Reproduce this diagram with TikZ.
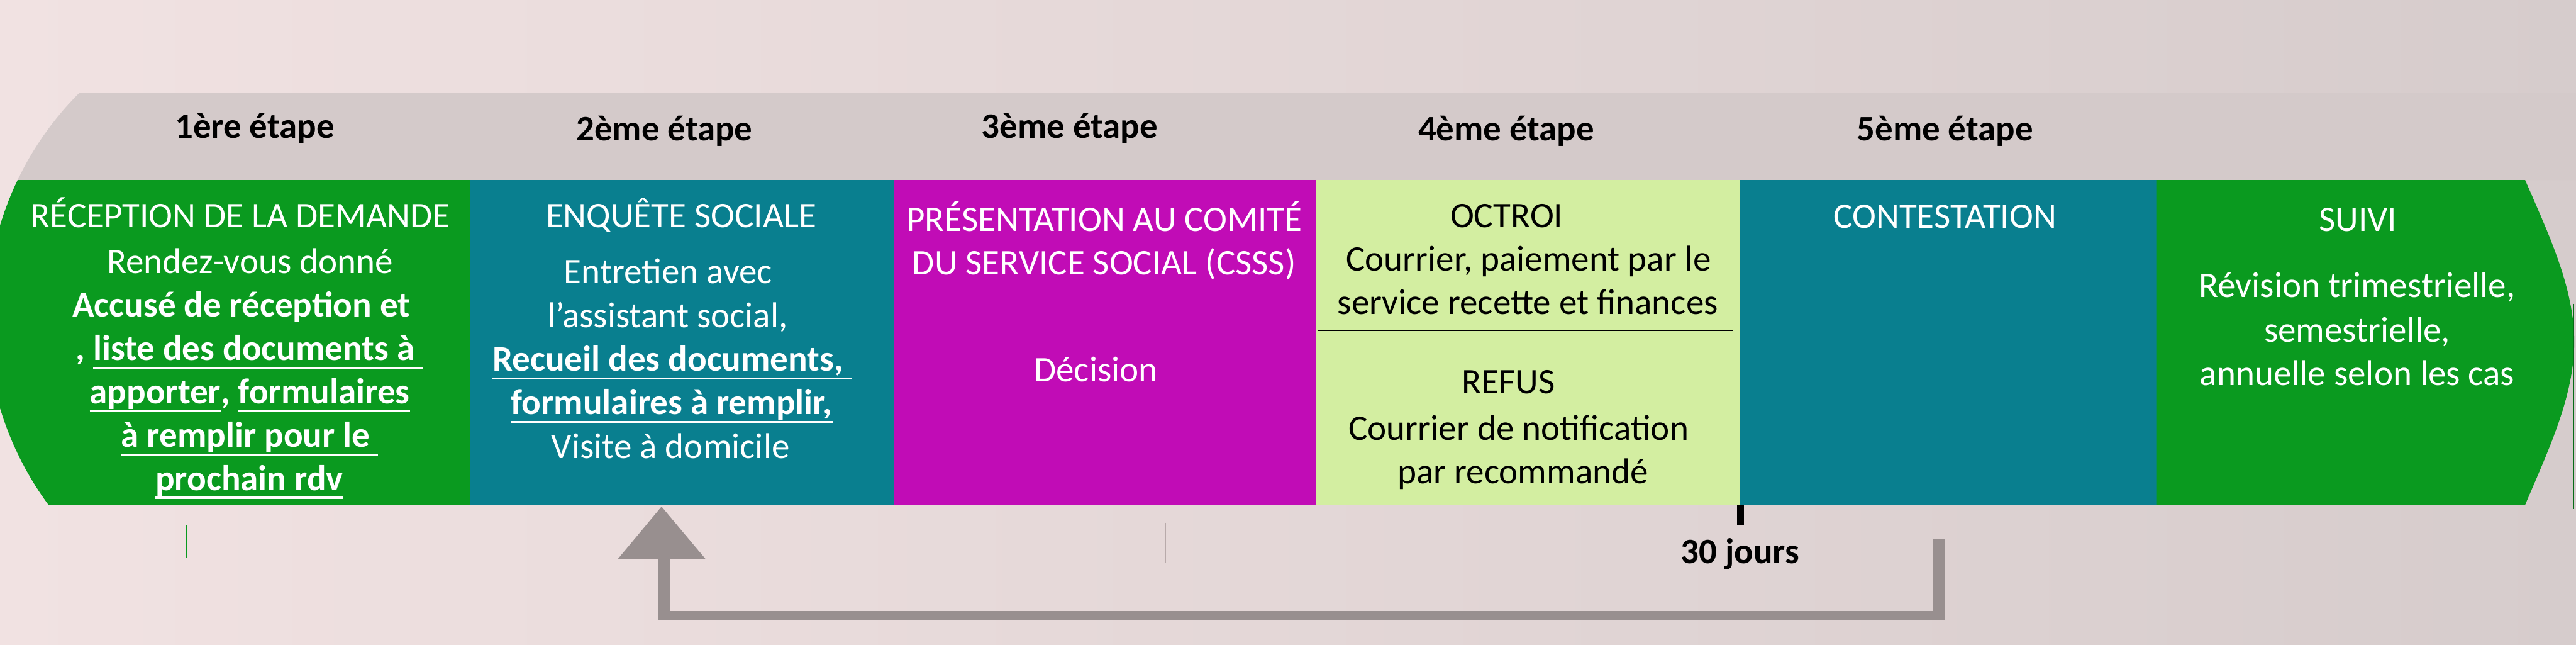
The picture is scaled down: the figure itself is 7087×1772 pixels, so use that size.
\documentclass[tikz,border=0pt]{standalone}
\usepackage{fontspec}
\setmainfont{Carlito}
\definecolor{bgL}{HTML}{F1E2E2}
\definecolor{bgR}{HTML}{D6CCCC}
\definecolor{bandgray}{HTML}{D4CACA}
\definecolor{cgreen}{HTML}{0A9A1F}
\definecolor{cteal}{HTML}{097F8F}
\definecolor{cmag}{HTML}{C10CB6}
\definecolor{clight}{HTML}{D3EEA1}
\definecolor{arrowgray}{HTML}{988F8F}
\definecolor{thingray}{HTML}{B8AAAA}
\newcommand\myul[1]{\setbox0\hbox{#1}\rlap{\rule[-6.8pt]{\wd0}{1.7pt}}\box0}
\begin{document}
\begin{tikzpicture}[x=0.01cm,y=-0.01cm,
  lbl/.style={inner sep=0pt, anchor=base, font=\fontsize{28.1}{34}\selectfont},
  wt/.style={lbl, text=white},
  wtb/.style={lbl, text=white, font=\fontsize{28.1}{34}\selectfont\bfseries},
  bk/.style={lbl, text=black},
  stagelbl/.style={lbl, text=black, font=\fontsize{28}{34}\selectfont\bfseries}]
\useasboundingbox (0,0) rectangle (7087,1772);
% background
\fill[left color=bgL, right color=bgR] (0,0) rectangle (7087,1772);
% grey band
\fill[bandgray] plot[domain=205.6:225.07, samples=30] ({833+870*cos(\x)},{871+870*sin(\x)})
  -- (7087,255) -- (7087,495) -- cycle;
% boxes
\fill[cgreen] plot[domain=143.54:205.6, samples=80] ({833+870*cos(\x)},{871+870*sin(\x)})
  -- (1295,495) -- (1295,1388) -- cycle;
\fill[cteal] (1295,495) rectangle (2458,1388);
\fill[cmag] (2458,495) rectangle (3622,1388);
\fill[clight] (3622,495) rectangle (4786,1388);
\fill[cteal] (4786,495) rectangle (5932,1388);
\fill[cgreen] (5932,495) -- (6947,495) .. controls (7011,643) and (7082,790) .. (7082,940)
  .. controls (7082,1090) and (7011,1237) .. (6947,1388) -- (5932,1388) -- cycle;
\draw[cgreen!70!black, line width=0.5pt] (7080,835) -- (7080,1400);
% separator in 4th box
\draw[black, line width=0.45pt] (3624,910) -- (4768,910);
% stage labels
\node[stagelbl] (s1) at (701,380) {1ère étape};
\node[stagelbl] (s2) at (1828,387) {2ème étape};
\node[stagelbl] (s3) at (2943,380) {3ème étape};
\node[stagelbl] (s4) at (4144,387) {4ème étape};
\node[stagelbl] (s5) at (5351,386) {5ème étape};
% box 1
\node[wt] (r1) at (661,626) {RÉCEPTION DE LA DEMANDE};
\node[wt] (r2) at (688,752) {Rendez-vous donné};
\node[wtb] (r3) at (664,872) {Accusé de réception et};
\node[wtb] (r4) at (686,990) {, \myul{liste des documents à }};
\node[wtb] (r5) at (687,1110) {\myul{apporter}, \myul{formulaires}};
\node[wtb] (r6) at (687,1229) {\myul{à remplir pour le }};
\node[wtb] (r7) at (686,1348) {\myul{prochain rdv}};
% box 2
\node[wt] (e1) at (1874,626) {ENQUÊTE SOCIALE};
\node[wt] (e2) at (1838,779) {Entretien avec};
\node[wt] (e3) at (1837,900) {l’assistant social,};
\node[wtb] (e4) at (1849,1020) {\myul{Recueil des documents, }};
\node[wtb] (e5) at (1848,1140) {\myul{formulaires à remplir,}};
\node[wt] (e6) at (1845,1260) {Visite à domicile};
% box 3
\node[wt] (p1) at (3038,636) {PRÉSENTATION AU COMITÉ};
\node[wt] (p2) at (3038,756) {DU SERVICE SOCIAL (CSSS)};
\node[wt] (p3) at (3015,1049) {Décision};
% box 4
\node[bk] (o1) at (4145,625) {OCTROI};
\node[bk] (o2) at (4205,745) {Courrier, paiement par le};
\node[bk] (o3) at (4203,864) {service recette et finances};
\node[bk] (o4) at (4150,1082) {REFUS};
\node[bk] (o5) at (4178,1210) {Courrier de notification};
\node[bk] (o6) at (4190,1329) {par recommandé};
% box 5
\node[wt] (c1) at (5351,628) {CONTESTATION};
% box 6
\node[wt] (v1) at (6487,636) {SUIVI};
\node[wt] (v2) at (6485,818) {Révision trimestrielle,};
\node[wt] (v3) at (6485,941) {semestrielle,};
\node[wt] (v4) at (6485,1059) {annuelle selon les cas};
% small marks below
\draw[cgreen, line width=0.3pt] (512,1445) -- (512,1533);
\draw[thingray, line width=0.3pt] (3207,1437) -- (3207,1549);
\fill[black] (4778,1389) rectangle (4798,1445);
\node[stagelbl] (j30) at (4787,1550) {30 jours};
% return arrow
\coordinate (tipA) at (1820,1393);
\coordinate (startA) at (5333,1481);
\fill[arrowgray] (1700,1537) -- (tipA) -- (1941,1537) -- cycle;
\fill[arrowgray] (1812,1536) rectangle (1845,1705);
\fill[arrowgray] (1812,1680) rectangle (5350,1705);
\fill[arrowgray] (5317,1481) rectangle (5350,1705);
\end{tikzpicture}
\end{document}
